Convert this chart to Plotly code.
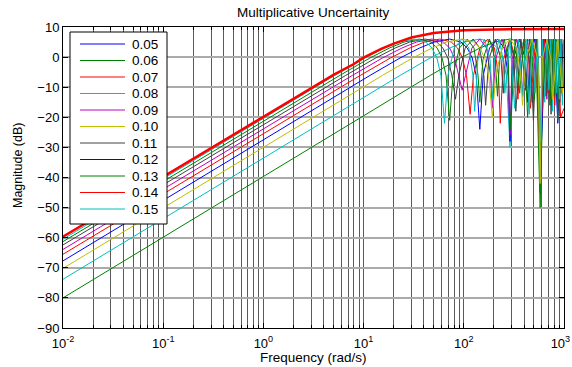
import plotly.graph_objects as go

# ---------------- data ----------------
legend_labels = ['0.05', '0.06', '0.07', '0.08', '0.09', '0.10',
                 '0.11', '0.12', '0.13', '0.14', '0.15']
legend_colors = ['#0000FF', '#008000', '#FF0000', '#00BFBF', '#BF00BF', '#BFBF00',
                 '#404040', '#0000FF', '#008000', '#FF0000', '#00BFBF']

# curve 1 (green, lowest)
w_1 = [0.01, 23.1, 46.2, 92.5, 144.5, 202, 289, 376, 433.5, 486, 532, 578, 624, 722.5, 867, 1000]
db_1 = [-80, -12.0, -6.1, -0.3, 3.0, 5.0, 6.0, 5.0, 3.0, -0.3, -6.1, -50, -6.1, 3.0, 6.0, 3.5]
# curve 2 (cyan)
w_2 = [0.01, 11.56, 23.1, 46.2, 72.25, 101.2, 144.5, 187.9, 216.8, 242.8, 265.9, 289, 312, 361, 433.5,
       505.8, 554.9, 578, 621, 722.5, 823.7, 867, 910, 1000]
db_2 = [-73.8, -12.0, -6.1, -0.3, 3.0, 5.0, 6.0, 5.0, 3.0, -0.3, -6.1, -30, -6.1, 3.0, 6.0,
        3.0, -6.1, -38, -0.8, 6.0, -0.8, -18, -0.8, 5.9]
# curve 3 (yellow)
w_3 = [0.01, 7.71, 15.4, 30.8, 48.2, 67.4, 96.3, 125.2, 144.5, 161.9, 177.3, 192.7, 208.1, 240.8, 289,
       337.2, 370, 385.3, 414.3, 481.7, 549.2, 578, 607, 674.3, 741.9, 770.7, 867, 963.3, 1000]
db_3 = [-70.2, -12.0, -6.1, -0.3, 3.0, 5.0, 6.0, 5.0, 3.0, -0.3, -6.1, -20, -6.1, 3.0, 6.0,
        3.0, -6.1, -16, -0.8, 6.0, -0.8, -42, -0.8, 6.0, -0.8, -14, 6.0, -12, 1.0]
# curve 4 (blue)
w_4 = [0.01, 5.78, 11.56, 23.1, 36.1, 50.6, 72.25, 93.9, 108.4, 121.4, 132.9, 144.5, 156.1, 180.6, 216.8,
       252.9, 277.4, 289, 310.7, 361.3, 411.8, 433.5, 455.2, 505.8, 556.3, 578, 650.3, 722.5, 794.8, 867,
       939.3, 1000]
db_4 = [-67.7, -12.0, -6.1, -0.3, 3.0, 5.0, 6.0, 5.0, 3.0, -0.3, -6.1, -24, -6.1, 3.0, 6.0,
        3.0, -6.1, -28, -0.8, 6.0, -0.8, -15, -0.8, 6.0, -0.8, -40, 6.0, -13, 6.0, -22,
        6.0, -6.1]
# curve 5 (red, thin)
w_5 = [0.01, 4.62, 9.25, 18.5, 28.9, 40.5, 57.8, 75.1, 86.7, 97.1, 106.4, 115.6, 124.8, 144.5, 173.4,
       202.3, 222, 231.2, 248.5, 289, 329.5, 346.8, 364.1, 404.6, 445.1, 462.4, 520.2, 578, 635.8, 693.6,
       751.4, 809.2, 867, 924.8, 1000]
db_5 = [-65.5, -12.0, -6.1, -0.3, 3.0, 5.0, 6.0, 5.0, 3.0, -0.3, -6.1, -19, -6.1, 3.0, 6.0,
        3.0, -6.1, -22, -0.8, 6.0, -0.8, -14, -0.8, 6.0, -0.8, -17, 6.0, -36, 6.0, -12,
        6.0, -16, 6.0, -20, -17.0]
# curve 6 (magenta)
w_6 = [0.01, 3.85, 7.71, 15.4, 24.1, 33.7, 48.2, 62.6, 72.2, 80.9, 88.6, 96.3, 104, 120.4, 144.5,
       168.6, 185, 192.7, 207.1, 240.8, 274.5, 289, 303.4, 337.2, 370.9, 385.3, 433.5, 481.7, 529.8, 578,
       626.2, 674.3, 722.5, 770.7, 818.8, 867, 915.2, 963.3, 1000]
db_6 = [-63.9, -12.0, -6.1, -0.3, 3.0, 5.0, 6.0, 5.0, 3.0, -0.3, -6.1, -11, -6.1, 3.0, 6.0,
        3.0, -6.1, -17, -0.8, 6.0, -0.8, -26, -0.8, 6.0, -0.8, -13, 6.0, -15, 6.0, -34,
        6.0, -14, 6.0, -11, 6.0, -17, 6.0, -13, 5.4]
# curve 7 (dark grey)
w_7 = [0.01, 3.30, 6.61, 13.2, 20.6, 28.9, 41.3, 53.7, 61.9, 69.4, 76.0, 82.6, 89.2, 103.2, 123.9,
       144.5, 158.5, 165.1, 177.5, 206.4, 235.3, 247.7, 260.1, 289, 317.9, 330.3, 371.6, 412.9, 454.1, 495.4,
       536.7, 578, 619.3, 660.6, 701.8, 743.1, 784.4, 825.7, 867, 908.3, 949.6, 990.9, 1000]
db_7 = [-62.4, -12.0, -6.1, -0.3, 3.0, 5.0, 6.0, 5.0, 3.0, -0.3, -6.1, -14, -6.1, 3.0, 6.0,
        3.0, -6.1, -16, -0.8, 6.0, -0.8, -12, -0.8, 6.0, -0.8, -18, 6.0, -11, 6.0, -21,
        6.0, -30, 6.0, -13, 6.0, -19, 6.0, -12, 6.0, -15, 6.0, -10, -3.4]
# curve 8 (green, upper)
w_8 = [0.01, 2.89, 5.78, 11.56, 18.06, 25.3, 36.1, 47.0, 54.2, 60.7, 66.5, 72.25, 78.0, 90.3, 108.4,
       126.4, 138.7, 144.5, 155.3, 180.6, 205.9, 216.8, 227.6, 252.9, 278.2, 289, 325.1, 361.3, 397.4, 433.5,
       469.6, 505.8, 541.9, 578, 614.1, 650.3, 686.4, 722.5, 758.6, 794.8, 830.9, 867, 903.1, 939.3, 1000]
db_8 = [-61.3, -12.0, -6.1, -0.3, 3.0, 5.0, 6.0, 5.0, 3.0, -0.3, -6.1, -21, -6.1, 3.0, 6.0,
        3.0, -6.1, -15, -0.8, 6.0, -0.8, -13, -0.8, 6.0, -0.8, -24, 6.0, -12, 6.0, -20,
        6.0, -14, 6.0, -45, 6.0, -11, 6.0, -16, 6.0, -13, 6.0, -21, 6.0, -12, -0.4]
# curve 9 (cyan, upper)
w_9 = [0.01, 2.57, 5.14, 10.3, 16.06, 22.5, 32.1, 41.7, 48.2, 53.9, 59.1, 64.2, 69.4, 80.3, 96.3,
       112.4, 123.3, 128.4, 138.1, 160.6, 183.0, 192.7, 202.3, 224.8, 247.2, 256.9, 289, 321.1, 353.2, 385.3,
       417.4, 449.6, 481.7, 513.8, 545.9, 578, 610.1, 642.2, 674.3, 706.4, 738.5, 770.7, 802.8, 834.9, 867,
       899.1, 931.2, 963.3, 1000]
db_9 = [-60.5, -12.0, -6.1, -0.3, 3.0, 5.0, 6.0, 5.0, 3.0, -0.3, -6.1, -22, -6.1, 3.0, 6.0,
        3.0, -6.1, -18, -0.8, 6.0, -0.8, -14, -0.8, 6.0, -0.8, -12, 6.0, -17, 6.0, -13,
        6.0, -19, 6.0, -12, 6.0, -28, 6.0, -15, 6.0, -11, 6.0, -18, 6.0, -12, 6.0,
        -14, 6.0, -16, 5.8]
# weight (thick red)
w_wt = [0.01, 1, 3, 5, 8, 10, 15, 20, 30, 50, 100, 200, 1000]
db_wt = [-59.7, -19.8, -10.4, -5.9, -2.3, -0.2, 2.7, 4.5, 6.5, 8.0, 8.9, 9.2, 9.3]

curves = [(w_1, db_1, '0.06', '#008000'), (w_2, db_2, '0.08', '#00BFBF'),
          (w_4, db_4, '0.12', '#0000FF'), (w_5, db_5, '0.07', '#FF0000'),
          (w_6, db_6, '0.09', '#BF00BF'), (w_7, db_7, '0.11', '#404040'),
          (w_8, db_8, '0.13', '#008000'), (w_9, db_9, '0.15', '#00BFBF'),
          (w_3, db_3, '0.10', '#BFBF00')]

y_ticks = [10, 0, -10, -20, -30, -40, -50, -60, -70, -80, -90]
x_ticks = [0.01, 0.1, 1, 10, 100, 1000]
x_ticktext = ['10<sup>-2</sup>', '10<sup>-1</sup>', '10<sup>0</sup>',
              '10<sup>1</sup>', '10<sup>2</sup>', '\u00a010<sup>3</sup>\u00a0\u00a0\u00a0']

# ---------------- figure ----------------
W, H = 572, 367
L, R, T, B = 63, 8, 27, 39
PW, PH = W - L - R, H - T - B

def px(x):
    return (x - L) / PW

def py(y):
    return (H - B - y) / PH

FONT = 'Arial, Liberation Sans, sans-serif'
fig = go.Figure()
for w, d, name, col in curves:
    fig.add_trace(go.Scatter(x=w, y=d, mode='lines', name=name,
                             line=dict(color=col, width=1), showlegend=False))
fig.add_trace(go.Scatter(x=w_wt, y=db_wt, mode='lines', name='weight',
                         line=dict(color='#FF0000', width=2.5), showlegend=False))

minor_vals = [m * 10 ** e for e in range(-2, 3) for m in range(2, 10)]
fig.update_xaxes(type='log', range=[-2, 3], tickmode='array', tickvals=x_ticks,
                 ticktext=x_ticktext, ticks='inside', ticklen=5, tickcolor='black',
                 showline=True, linecolor='black', linewidth=1, mirror='ticks',
                 showgrid=True, gridcolor='#5a5a5a', gridwidth=1, zeroline=False,
                 automargin=False, ticklabeloverflow='allow', ticklabelstandoff=3,
                 tickfont=dict(family=FONT, size=13, color='black'),
                 minor=dict(tickmode='array', tickvals=minor_vals, ticks='inside',
                            ticklen=3, tickcolor='black', showgrid=True,
                            gridcolor='#5a5a5a', gridwidth=1))
fig.update_yaxes(range=[-90, 10], tickmode='array', tickvals=y_ticks,
                 ticks='inside', ticklen=5, tickcolor='black',
                 showline=True, linecolor='black', linewidth=1, mirror='ticks',
                 showgrid=True, gridcolor='#aaaaaa', gridwidth=1.5, zeroline=False,
                 automargin=False,
                 tickfont=dict(family=FONT, size=13, color='black'))

# custom legend (box, sample lines, labels)
shapes = [dict(type='rect', xref='paper', yref='paper', x0=px(70), x1=px(167),
               y0=py(224), y1=py(32), fillcolor='white',
               line=dict(color='black', width=1), layer='above')]
annotations = []
for i, (lab, col) in enumerate(zip(legend_labels, legend_colors)):
    yy = 44 + 16.5 * i
    shapes.append(dict(type='line', xref='paper', yref='paper', x0=px(80), x1=px(125),
                       y0=py(yy), y1=py(yy), line=dict(color=col, width=1), layer='above'))
    annotations.append(dict(xref='paper', yref='paper', x=px(130), y=py(yy), text=lab,
                            showarrow=False, xanchor='left', yanchor='middle',
                            font=dict(family=FONT, size=13.5, color='black')))

annotations.append(dict(xref='paper', yref='paper', x=0.5, y=py(357), text='Frequency (rad/s)',
                        showarrow=False, xanchor='center', yanchor='middle',
                        font=dict(family=FONT, size=13.5, color='black')))
annotations.append(dict(xref='paper', yref='paper', x=px(18), y=py(166), text='Magnitude (dB)',
                        showarrow=False, textangle=-90, xanchor='center', yanchor='middle',
                        font=dict(family=FONT, size=12.5, color='black')))
annotations.append(dict(xref='paper', yref='paper', x=0.5, y=py(12), text='Multiplicative Uncertainity',
                        showarrow=False, xanchor='center', yanchor='middle',
                        font=dict(family=FONT, size=13.5, color='black')))

fig.update_layout(width=W, height=H, margin=dict(l=L, r=R, t=T, b=B, autoexpand=False),
                  paper_bgcolor='white', plot_bgcolor='white', showlegend=False,
                  shapes=shapes, annotations=annotations)

fig.write_html('out.html')
